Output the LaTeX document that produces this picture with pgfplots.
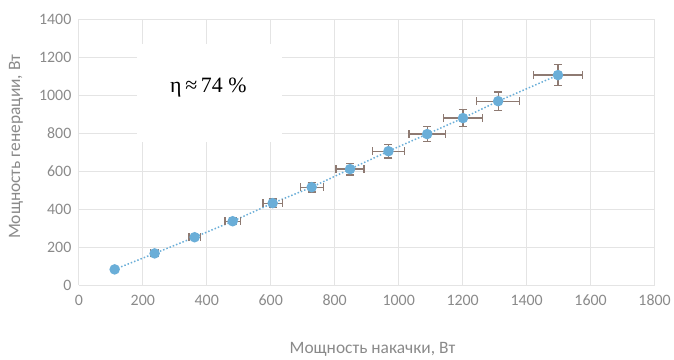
\documentclass[border=0pt]{standalone}
\usepackage{fontspec}
\setmainfont{Carlito}
\newfontfamily\serifann{Liberation Serif}
\usepackage{pgfplots}
\pgfplotsset{compat=1.18}
\definecolor{gridc}{HTML}{E4E4E4}
\definecolor{tickc}{HTML}{8A8A8A}
\definecolor{markc}{HTML}{6AAED8}
\definecolor{errc}{HTML}{8E7A72}
\begin{document}
\begin{tikzpicture}
\begin{axis}[
  at={(0,0)}, anchor=south west,
  scale only axis, width=577bp, height=267bp,
  xmin=0, xmax=1800, ymin=0, ymax=1400,
  xtick={0,200,...,1800}, ytick={0,200,...,1400},
  grid=major, major grid style={gridc, line width=0.8pt},
  axis line style={draw=none},
  tick style={draw=none},
  ticklabel style={font=\fontsize{16}{19}\selectfont, text=tickc},
  /pgf/number format/assume math mode=true,
  /pgf/number format/1000 sep={},
  xticklabel style={yshift=-6bp},
  yticklabel style={xshift=-4bp},
  xlabel={Мощность накачки, Вт},
  ylabel={Мощность генерации, Вт},
  label style={font=\fontsize{17.5}{20}\selectfont, text=tickc},
  xlabel style={at={(axis description cs:0.51,0)}, anchor=center, yshift=-64bp},
  ylabel style={at={(axis description cs:0,0.52)}, anchor=center, yshift=63bp},
  clip=false,
]
\fill[white] (axis cs:181,753) rectangle (axis cs:636,1268);
\node[font=\serifann\fontsize{22}{25}\selectfont, text=black] at (axis cs:405,1040) {η\,≈\,74 \%};
\addplot[
  color=markc, line width=1.5pt, dotted,
  mark=*, mark size=4.5pt, mark options={solid, fill=markc, draw=markc},
  error bars/.cd,
    x dir=both, x explicit, y dir=both, y explicit,
    error bar style={errc, line width=1.3pt, solid},
    error mark options={errc, line width=1.3pt, rotate=90, mark size=4pt},
] table[x=x, y=y, x error=ex, y error=ey] {
x y ex ey
112 84 6 4
237 168 12 8
362 253 18 13
481 337 24 17
606 432 30 22
728 516 36 26
848 611 44 31
968 705 50 36
1089 795 57 40
1201 879 61 44
1311 968 67 48
1498 1105 76 56
};
\end{axis}
\path[use as bounding box] (-79bp,-73bp) rectangle (595bp,286bp);
\end{tikzpicture}
\end{document}
